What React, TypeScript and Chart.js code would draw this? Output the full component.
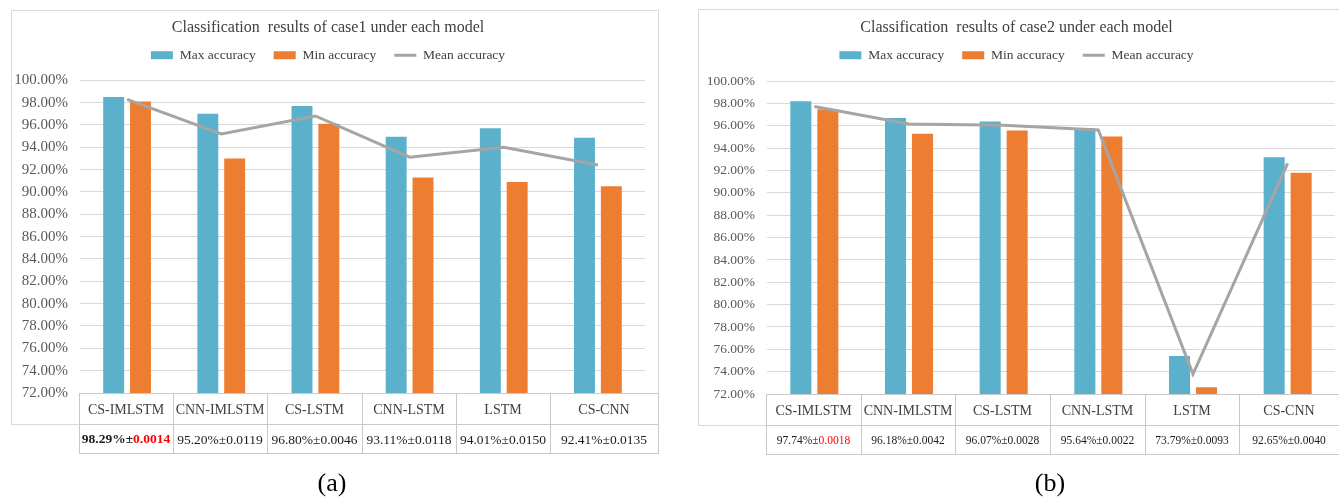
import { useEffect, useRef } from 'react';
import { Chart, registerables } from 'chart.js';

Chart.register(...registerables);

// Models compared in both cases
const models = ['CS-IMLSTM', 'CNN-IMLSTM', 'CS-LSTM', 'CNN-LSTM', 'LSTM', 'CS-CNN'];

// Case 1 accuracies (%)
const case1Max = [98.5, 97.0, 97.7, 94.95, 95.7, 94.85];
const case1Min = [98.1, 93.0, 96.1, 91.3, 90.9, 90.5];
const case1Mean = [98.29, 95.2, 96.8, 93.11, 94.01, 92.41];
const case1Std = ['0.0014', '0.0119', '0.0046', '0.0118', '0.0150', '0.0135'];

// Case 2 accuracies (%)
const case2Max = [98.2, 96.7, 96.4, 95.8, 75.4, 93.2];
const case2Min = [97.5, 95.3, 95.6, 95.05, 72.6, 91.8];
const case2Mean = [97.74, 96.18, 96.07, 95.64, 73.79, 92.65];
const case2Std = ['0.0018', '0.0042', '0.0028', '0.0022', '0.0093', '0.0040'];

const seriesNames = ['Max accuracy', 'Min accuracy', 'Mean accuracy'];
const Y_MIN = 72;
const Y_STEP = 2;

const SERIF = "'Liberation Serif', 'Times New Roman', serif";
const BLUE = '#5BB1CB';
const ORANGE = '#ED7D31';
const GRAY = '#A5A5A5';

type PanelCfg = {
  title: string;
  max: number[];
  min: number[];
  mean: number[];
  std: string[];
  left: number;
  width: number;
  padding: { top: number; left: number; right: number; bottom: number };
  yMax: number;
  tickSize: number;
  valueSize: number;
  firstBold: boolean;
  frame: { left: number; top: number; right: number; bottom: number };
  tableRight: number;
  caption: string;
  captionX: number;
};

const panels: PanelCfg[] = [
  {
    title: 'Classification  results of case1 under each model',
    max: case1Max,
    min: case1Min,
    mean: case1Mean,
    std: case1Std,
    left: 0,
    width: 670,
    padding: { top: 10, left: 11, right: 25, bottom: 47 },
    yMax: 100.73,
    tickSize: 15,
    valueSize: 13.5,
    firstBold: true,
    frame: { left: 11, top: 10, right: 658, bottom: 424 },
    tableRight: 658,
    caption: '(a)',
    captionX: 332,
  },
  {
    title: 'Classification  results of case2 under each model',
    max: case2Max,
    min: case2Min,
    mean: case2Mean,
    std: case2Std,
    left: 670,
    width: 669,
    padding: { top: 10, left: 28, right: 4, bottom: 46 },
    yMax: 100.82,
    tickSize: 13.5,
    valueSize: 11.5,
    firstBold: false,
    frame: { left: 28, top: 9, right: 690, bottom: 425 },
    tableRight: 669,
    caption: '(b)',
    captionX: 380,
  },
];

function AccuracyPanel({ cfg }: { cfg: PanelCfg }) {
  const ref = useRef<HTMLCanvasElement>(null);

  useEffect(() => {
    const canvas = ref.current;
    if (!canvas) return;

    // Outer frame, data table under the axis, and the sub-figure caption
    const decor = {
      id: 'panelDecor',
      beforeDraw(chart: any) {
        const { ctx } = chart;
        const f = cfg.frame;
        ctx.save();
        ctx.strokeStyle = '#D9D9D9';
        ctx.lineWidth = 1;
        ctx.strokeRect(f.left + 0.5, f.top + 0.5, f.right - f.left, f.bottom - f.top);
        ctx.restore();
      },
      afterDraw(chart: any) {
        const { ctx, chartArea, scales } = chart;
        const xs = scales.x;
        const n = models.length;
        const half = (xs.getPixelForValue(1) - xs.getPixelForValue(0)) / 2;
        const edges: number[] = [];
        for (let i = 0; i < n; i++) edges.push(Math.round(xs.getPixelForValue(i) - half) - 1);
        edges.push(cfg.tableRight);
        const top = Math.round(chartArea.bottom);
        const row1 = cfg.frame.bottom;
        const row2 = top + 60;

        ctx.save();
        ctx.strokeStyle = '#C9C9C9';
        ctx.lineWidth = 1;
        ctx.beginPath();
        [top, row1, row2].forEach((y) => {
          ctx.moveTo(edges[0], y + 0.5);
          ctx.lineTo(edges[n] + 1, y + 0.5);
        });
        edges.forEach((x) => {
          ctx.moveTo(x + 0.5, top);
          ctx.lineTo(x + 0.5, row2 + 1);
        });
        ctx.stroke();

        ctx.textBaseline = 'middle';
        ctx.textAlign = 'left';
        for (let i = 0; i < n; i++) {
          const cx = (edges[i] + edges[i + 1]) / 2;
          ctx.font = `14px ${SERIF}`;
          ctx.fillStyle = '#404040';
          const name = models[i];
          ctx.fillText(name, cx - ctx.measureText(name).width / 2, top + 17);

          const weight = cfg.firstBold && i === 0 ? 'bold ' : '';
          ctx.font = `${weight}${cfg.valueSize}px ${SERIF}`;
          const head = `${cfg.mean[i].toFixed(2)}%±`;
          const tail = cfg.std[i];
          const wHead = ctx.measureText(head).width;
          const wTail = ctx.measureText(tail).width;
          const x0 = cx - (wHead + wTail) / 2;
          ctx.fillStyle = '#1A1A1A';
          ctx.fillText(head, x0, top + 47);
          ctx.fillStyle = i === 0 ? '#FF0000' : '#1A1A1A';
          ctx.fillText(tail, x0 + wHead, top + 47);
        }

        ctx.font = `26px ${SERIF}`;
        ctx.fillStyle = '#000000';
        ctx.textAlign = 'center';
        ctx.fillText(cfg.caption, cfg.captionX, 484);
        ctx.restore();
      },
    };

    const chart = new Chart(canvas, {
      type: 'bar',
      data: {
        labels: models,
        datasets: [
          {
            label: seriesNames[0],
            data: cfg.max,
            backgroundColor: BLUE,
            categoryPercentage: 0.57,
            barPercentage: 0.78,
            order: 2,
          },
          {
            label: seriesNames[1],
            data: cfg.min,
            backgroundColor: ORANGE,
            categoryPercentage: 0.57,
            barPercentage: 0.78,
            order: 2,
          },
          {
            type: 'line',
            label: seriesNames[2],
            data: cfg.mean,
            borderColor: GRAY,
            backgroundColor: GRAY,
            borderWidth: 3,
            pointRadius: 0,
            tension: 0,
            order: 1,
          } as any,
        ],
      },
      options: {
        responsive: false,
        animation: false,
        layout: { padding: cfg.padding },
        plugins: {
          title: {
            display: true,
            text: cfg.title,
            color: '#404040',
            font: { family: SERIF, size: 16, weight: 'normal' },
            padding: { top: 8.4, bottom: -7 },
          },
          legend: {
            position: 'top',
            labels: {
              usePointStyle: true,
              pointStyleWidth: 22,
              boxHeight: 8,
              padding: 18,
              color: '#404040',
              font: { family: SERIF, size: 13.5 },
              sort: (a: any, b: any) => a.datasetIndex - b.datasetIndex,
              generateLabels: (c: any) =>
                Chart.defaults.plugins.legend.labels.generateLabels(c).map((item: any) => {
                  const ds: any = c.data.datasets[item.datasetIndex];
                  if (ds.type === 'line') {
                    return { ...item, pointStyle: 'line', strokeStyle: GRAY, lineWidth: 3 };
                  }
                  return { ...item, pointStyle: 'rect', lineWidth: 0 };
                }),
            },
          },
          tooltip: { enabled: false },
        },
        scales: {
          x: {
            grid: { display: false },
            border: { display: false },
            ticks: { display: false },
            afterFit: (s: any) => {
              s.height = 60;
            },
          },
          y: {
            min: Y_MIN,
            max: cfg.yMax,
            ticks: {
              stepSize: Y_STEP,
              includeBounds: false,
              callback: (v: any) => `${Number(v).toFixed(2)}%`,
              color: '#595959',
              font: { family: SERIF, size: cfg.tickSize },
              padding: 12,
            },
            grid: { color: '#D9D9D9', lineWidth: 1, drawTicks: false },
            border: { display: false },
            afterFit: (s: any) => {
              s.width = 69;
            },
          },
        },
      } as any,
      plugins: [decor],
    });

    return () => chart.destroy();
  }, [cfg]);

  return (
    <canvas
      ref={ref}
      width={cfg.width}
      height={500}
      style={{ position: 'absolute', left: cfg.left, top: 0, width: cfg.width, height: 500 }}
    />
  );
}

export default function App() {
  return (
    <div style={{ position: 'absolute', left: 0, top: 0, width: 1339, height: 500, background: '#FFFFFF', overflow: 'hidden' }}>
      {panels.map((p) => (
        <AccuracyPanel key={p.caption} cfg={p} />
      ))}
    </div>
  );
}
